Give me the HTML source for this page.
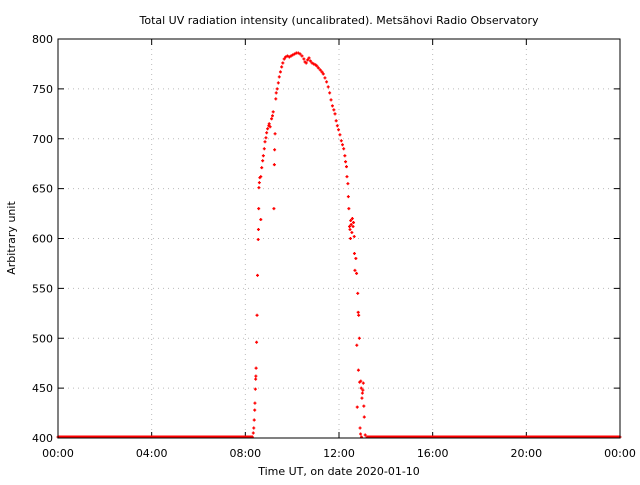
<!DOCTYPE html>
<html><head><meta charset="utf-8"><style>
body{margin:0;background:#fff;}
svg text{font-family:"DejaVu Sans","Liberation Sans",sans-serif;font-size:11px;fill:#000;}
</style></head><body>
<svg id="chart" width="640" height="480" viewBox="0 0 640 480" xmlns="http://www.w3.org/2000/svg">
<rect width="640" height="480" fill="#fff"/>
<text x="339" y="24" text-anchor="middle">Total UV radiation intensity (uncalibrated). Metsähovi Radio Observatory</text>
<text x="339" y="475" text-anchor="middle">Time UT, on date 2020-01-10</text>
<text x="15" y="238" text-anchor="middle" transform="rotate(-90 15 238)">Arbitrary unit</text>
<g id="grid"></g><g id="ticks"></g><g id="marks"></g>
<rect x="58" y="39" width="562" height="399" fill="none" stroke="#000" stroke-width="1"/>
</svg>
<script>
const xTicks=[0,4,8,12,16,20,24];
const xTickLabels=["00:00","04:00","08:00","12:00","16:00","20:00","00:00"];
const yTicks=[400,450,500,550,600,650,700,750,800];
const baseTimes=[0,0.25,0.5,0.75,1,1.25,1.5,1.75,2,2.25,2.5,2.75,3,3.25,3.5,3.75,4,4.25,4.5,4.75,5,5.25,5.5,5.75,6,6.25,6.5,6.75,7,7.25,7.5,7.75,8,8.15,13.3,13.5,13.75,14,14.25,14.5,14.75,15,15.25,15.5,15.75,16,16.25,16.5,16.75,17,17.25,17.5,17.75,18,18.25,18.5,18.75,19,19.25,19.5,19.75,20,20.25,20.5,20.75,21,21.25,21.5,21.75,22,22.25,22.5,22.75,23,23.25,23.5,23.75,24];
const dayTimes=[8.30,8.34,8.36,8.38,8.40,8.41,8.43,8.44,8.45,8.46,8.48,8.50,8.52,8.55,8.56,8.57,8.58,8.60,8.62,8.66,8.66,8.70,8.74,8.77,8.81,8.84,8.88,8.91,8.95,9.00,9.02,9.06,9.12,9.16,9.19,9.22,9.24,9.25,9.27,9.30,9.32,9.36,9.41,9.45,9.50,9.55,9.60,9.66,9.72,9.80,9.88,9.95,10.02,10.1,10.18,10.26,10.34,10.42,10.5,10.55,10.6,10.66,10.72,10.78,10.85,10.92,11.0,11.05,11.12,11.2,11.27,11.33,11.4,11.47,11.54,11.6,11.66,11.72,11.78,11.83,11.88,11.93,11.98,12.04,12.1,12.15,12.2,12.25,12.28,12.32,12.34,12.38,12.40,12.42,12.45,12.47,12.49,12.5,12.52,12.55,12.57,12.6,12.62,12.65,12.66,12.68,12.72,12.75,12.8,12.82,12.84,12.87,12.76,12.83,12.88,12.78,12.93,12.95,12.98,13.0,13.02,13.04,13.06,13.08,12.9,12.92,12.96,13.12,13.2];
const dayValues=[401,405,410,418,428,435,449,459,462,470,496,523,563,599,609,630,651,656,661,619,662,671,678,683,690,697,701,706,710,713,715,712,720,723,727,630,674,689,705,740,746,750,756,762,767,772,776,780,782,783,782,783,784,785,786,786,785,783,780,777,776,779,781,778,776,775,774,773,771,769,767,765,761,757,752,746,739,733,729,725,718,713,709,704,698,694,690,683,677,672,662,655,642,630,612,609,600,618,614,606,620,612,616,602,585,568,580,565,545,526,523,500,493,468,456,431,457,450,440,445,448,455,432,421,410,404,401,403,401];
const X0=58,X1=620,Y0=438,Y1=39;
const xs=h=>X0+(h/24)*(X1-X0);
const ys=v=>Y0-(v-400)/400*(Y0-Y1);
const NS="http://www.w3.org/2000/svg";
const grid=document.getElementById('grid'),ticks=document.getElementById('ticks'),marks=document.getElementById('marks');
function mk(tag,attrs,parent){const e=document.createElementNS(NS,tag);for(const k in attrs)e.setAttribute(k,attrs[k]);parent.appendChild(e);return e;}
xTicks.forEach((t,i)=>{const x=xs(t);
 if(i>0&&i<xTicks.length-1){const g=mk('line',{x1:x,x2:x,y1:Y1,y2:Y0,stroke:'#bbb','stroke-dasharray':'1,4'},grid);
 
 }
 const a=mk('line',{x1:x,x2:x,y1:Y0,y2:Y0-6,stroke:'#000'},ticks);
 
 
 const b=mk('line',{x1:x,x2:x,y1:Y1,y2:Y1+6,stroke:'#000'},ticks);
 
 
 const tx=mk('text',{x:x,y:457,'text-anchor':'middle'},ticks);tx.textContent=xTickLabels[i];
 
 
});
yTicks.forEach((v,i)=>{const y=ys(v);
 if(i>0&&i<yTicks.length-1){const g=mk('line',{x1:X0,x2:X1,y1:y,y2:y,stroke:'#bbb','stroke-dasharray':'1,4'},grid);
 
 }
 const a=mk('line',{x1:X0,x2:X0+6,y1:y,y2:y,stroke:'#000'},ticks);
 
 
 const b=mk('line',{x1:X1,x2:X1-6,y1:y,y2:y,stroke:'#000'},ticks);
 
 
 const tx=mk('text',{x:53,y:y+4,'text-anchor':'end'},ticks);tx.textContent=v;
 
 
});
function point(h,v){const x=xs(h),y=ys(v);
 const p=mk('path',{d:`M${x-1.5},${y}H${x+1.5}M${x},${y-1.5}V${y+1.5}`,stroke:'#f00','stroke-width':1.3},marks);
 
 }
// baseline segments (night values ~401)
const bl1=mk('line',{x1:xs(0),x2:xs(8.3),y1:ys(401),y2:ys(401),stroke:'#f00','stroke-width':3},marks);


const bl2=mk('line',{x1:xs(13.2),x2:xs(24),y1:ys(401),y2:ys(401),stroke:'#f00','stroke-width':3},marks);


baseTimes.forEach(t=>point(t,401));
dayTimes.forEach((t,i)=>point(t,dayValues[i]));
</script>
</body></html>
